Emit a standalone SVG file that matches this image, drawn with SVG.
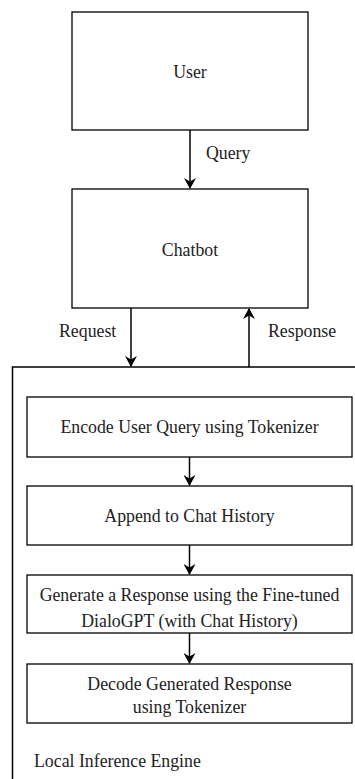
<svg xmlns="http://www.w3.org/2000/svg" width="355" height="779" viewBox="0 0 355 779">
<style>
.box{fill:#fff;stroke:#000;stroke-width:1.3}
.t{font-family:"Liberation Serif","Times New Roman",serif;font-size:17.8px;fill:#222;text-anchor:middle;dominant-baseline:central}
.l{font-family:"Liberation Serif","Times New Roman",serif;font-size:17.8px;fill:#222;dominant-baseline:central}
.c{fill:none;stroke:#000;stroke-width:1.5}
</style>
<defs>
<marker id="ah" viewBox="0 0 11 12" refX="10" refY="6" markerWidth="11" markerHeight="12" markerUnits="userSpaceOnUse" orient="auto">
<path d="M0,0 L11,6 L0,12 L3.5,6 Z" fill="#000"/>
</marker>
</defs>
<rect width="355" height="779" fill="#fff"/>
<g id="engine">
<path d="M358,367 L12.5,367 L12.5,782" class="c" stroke-width="1.3"/>
<text class="l" x="34" y="761">Local Inference Engine</text>
</g>
<g id="user"><rect class="box" x="72" y="12" width="236" height="118"/><text class="t" x="190" y="72">User</text></g>
<g id="chatbot"><rect class="box" x="72" y="189" width="236" height="119"/><text class="t" x="190" y="250">Chatbot</text></g>
<g id="encode"><rect class="box" x="27" y="397" width="325" height="60"/><text class="t" x="189.5" y="427">Encode User Query using Tokenizer</text></g>
<g id="append"><rect class="box" x="27" y="486" width="325" height="59"/><text class="t" x="189.5" y="516">Append to Chat History</text></g>
<g id="generate"><rect class="box" x="27" y="575" width="325" height="58"/><text class="t" x="189.5" y="595">Generate a Response using the Fine-tuned</text><text class="t" x="189.5" y="621">DialoGPT (with Chat History)</text></g>
<g id="decode"><rect class="box" x="27" y="664" width="325" height="59"/><text class="t" x="189.5" y="684">Decode Generated Response</text><text class="t" x="189.5" y="707">using Tokenizer</text></g>
<g id="connectors">
<path class="c" d="M190,130 L190,188" marker-end="url(#ah)"/>
<text class="l" x="206" y="153">Query</text>
<path class="c" d="M131,308 L131,366" marker-end="url(#ah)"/>
<text class="l" x="59" y="331">Request</text>
<path class="c" d="M249,367 L249,309" marker-end="url(#ah)"/>
<text class="l" x="268" y="331">Response</text>
<path class="c" d="M189.5,457 L189.5,485" marker-end="url(#ah)"/>
<path class="c" d="M189.5,545 L189.5,574" marker-end="url(#ah)"/>
<path class="c" d="M189.5,633 L189.5,663" marker-end="url(#ah)"/>
</g>
</svg>
